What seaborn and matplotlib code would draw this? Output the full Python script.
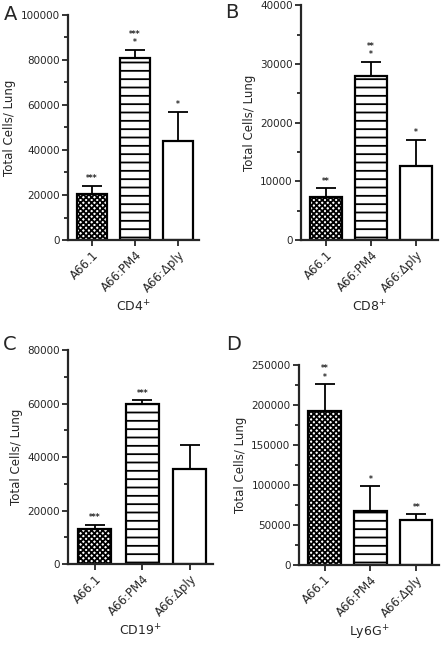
import numpy as np
import pandas as pd
import seaborn as sns
from matplotlib import pyplot as plt
from matplotlib.ticker import MultipleLocator

sns.set_style('ticks')
plt.rcParams['font.family'] = ['DejaVu Sans']
plt.rcParams['hatch.linewidth'] = 1.3

strains = ['A66.1', 'A66:PM4', 'A66:\u0394ply']

# mean and top of error bar for each panel
cd4_mean = [20500, 81000, 43800]
cd4_top = [24200, 84500, 57000]
cd4_stars = ['***', '***\n*', '*']

cd8_mean = [7300, 28000, 12600]
cd8_top = [8800, 30300, 17000]
cd8_stars = ['**', '**\n*', '*']

cd19_mean = [13300, 59700, 35700]
cd19_top = [14800, 61300, 44500]
cd19_stars = ['***', '***', '']

ly6g_mean = [192000, 67000, 56000]
ly6g_top = [226000, 98500, 63500]
ly6g_stars = ['**\n*', '*', '**']

panels = [
    ('A', 'CD4$^{+}$', cd4_mean, cd4_top, cd4_stars, 100000, 20000, 10000,
     [0.154, 0.629, 0.296, 0.348], (0.008, 0.977)),
    ('B', 'CD8$^{+}$', cd8_mean, cd8_top, cd8_stars, 40000, 10000, 5000,
     [0.681, 0.629, 0.310, 0.363], (0.510, 0.980)),
    ('C', 'CD19$^{+}$', cd19_mean, cd19_top, cd19_stars, 80000, 20000, 10000,
     [0.154, 0.128, 0.328, 0.331], (0.006, 0.467)),
    ('D', 'Ly6G$^{+}$', ly6g_mean, ly6g_top, ly6g_stars, 250000, 50000, 25000,
     [0.676, 0.127, 0.317, 0.309], (0.512, 0.467)),
]

hatches = ['xxxxxx', '--', '']

fig = plt.figure(figsize=(4.42, 6.47), dpi=100)

for letter, xlab, mean, top, stars, ymax, major, minor, rect, lpos in panels:
    ax = fig.add_axes(rect)
    df = pd.DataFrame({'strain': strains, 'cells': mean})
    sns.barplot(data=df, x='strain', y='cells', ax=ax, color='white',
                edgecolor='black', linewidth=1.6, width=0.7, saturation=1)
    for patch, h in zip(ax.patches, hatches):
        patch.set_hatch(h)
    err = np.array(top) - np.array(mean)
    ax.errorbar(range(3), mean, yerr=[np.zeros(3), err], fmt='none',
                ecolor='black', elinewidth=1.3, capsize=7, capthick=1.3)
    for i, s in enumerate(stars):
        if s:
            ax.text(i, top[i] + ymax * 0.012, s, ha='center', va='bottom',
                    fontsize=5.5, linespacing=0.9, fontweight='bold')
    ax.set_xlim(-0.56, 2.49)
    ax.set_ylim(0, ymax)
    ax.yaxis.set_major_locator(MultipleLocator(major))
    ax.yaxis.set_minor_locator(MultipleLocator(minor))
    ax.tick_params(axis='both', which='major', length=4, width=1.3, labelsize=7.5, pad=2)
    ax.tick_params(axis='y', which='minor', length=3, width=1.3)
    ax.set_xticks(range(3))
    ax.set_xticklabels(strains, rotation=45, ha='right', rotation_mode='anchor', fontsize=8.5)
    for sp in ['left', 'bottom']:
        ax.spines[sp].set_linewidth(1.6)
    sns.despine(ax=ax)
    ax.set_ylabel('Total Cells/ Lung', fontsize=8.5, labelpad=3)
    ax.set_xlabel(xlab, fontsize=9, labelpad=3)
    fig.text(lpos[0], lpos[1], letter, fontsize=14, va='center', ha='left')

fig.savefig('out.png', dpi=100)
